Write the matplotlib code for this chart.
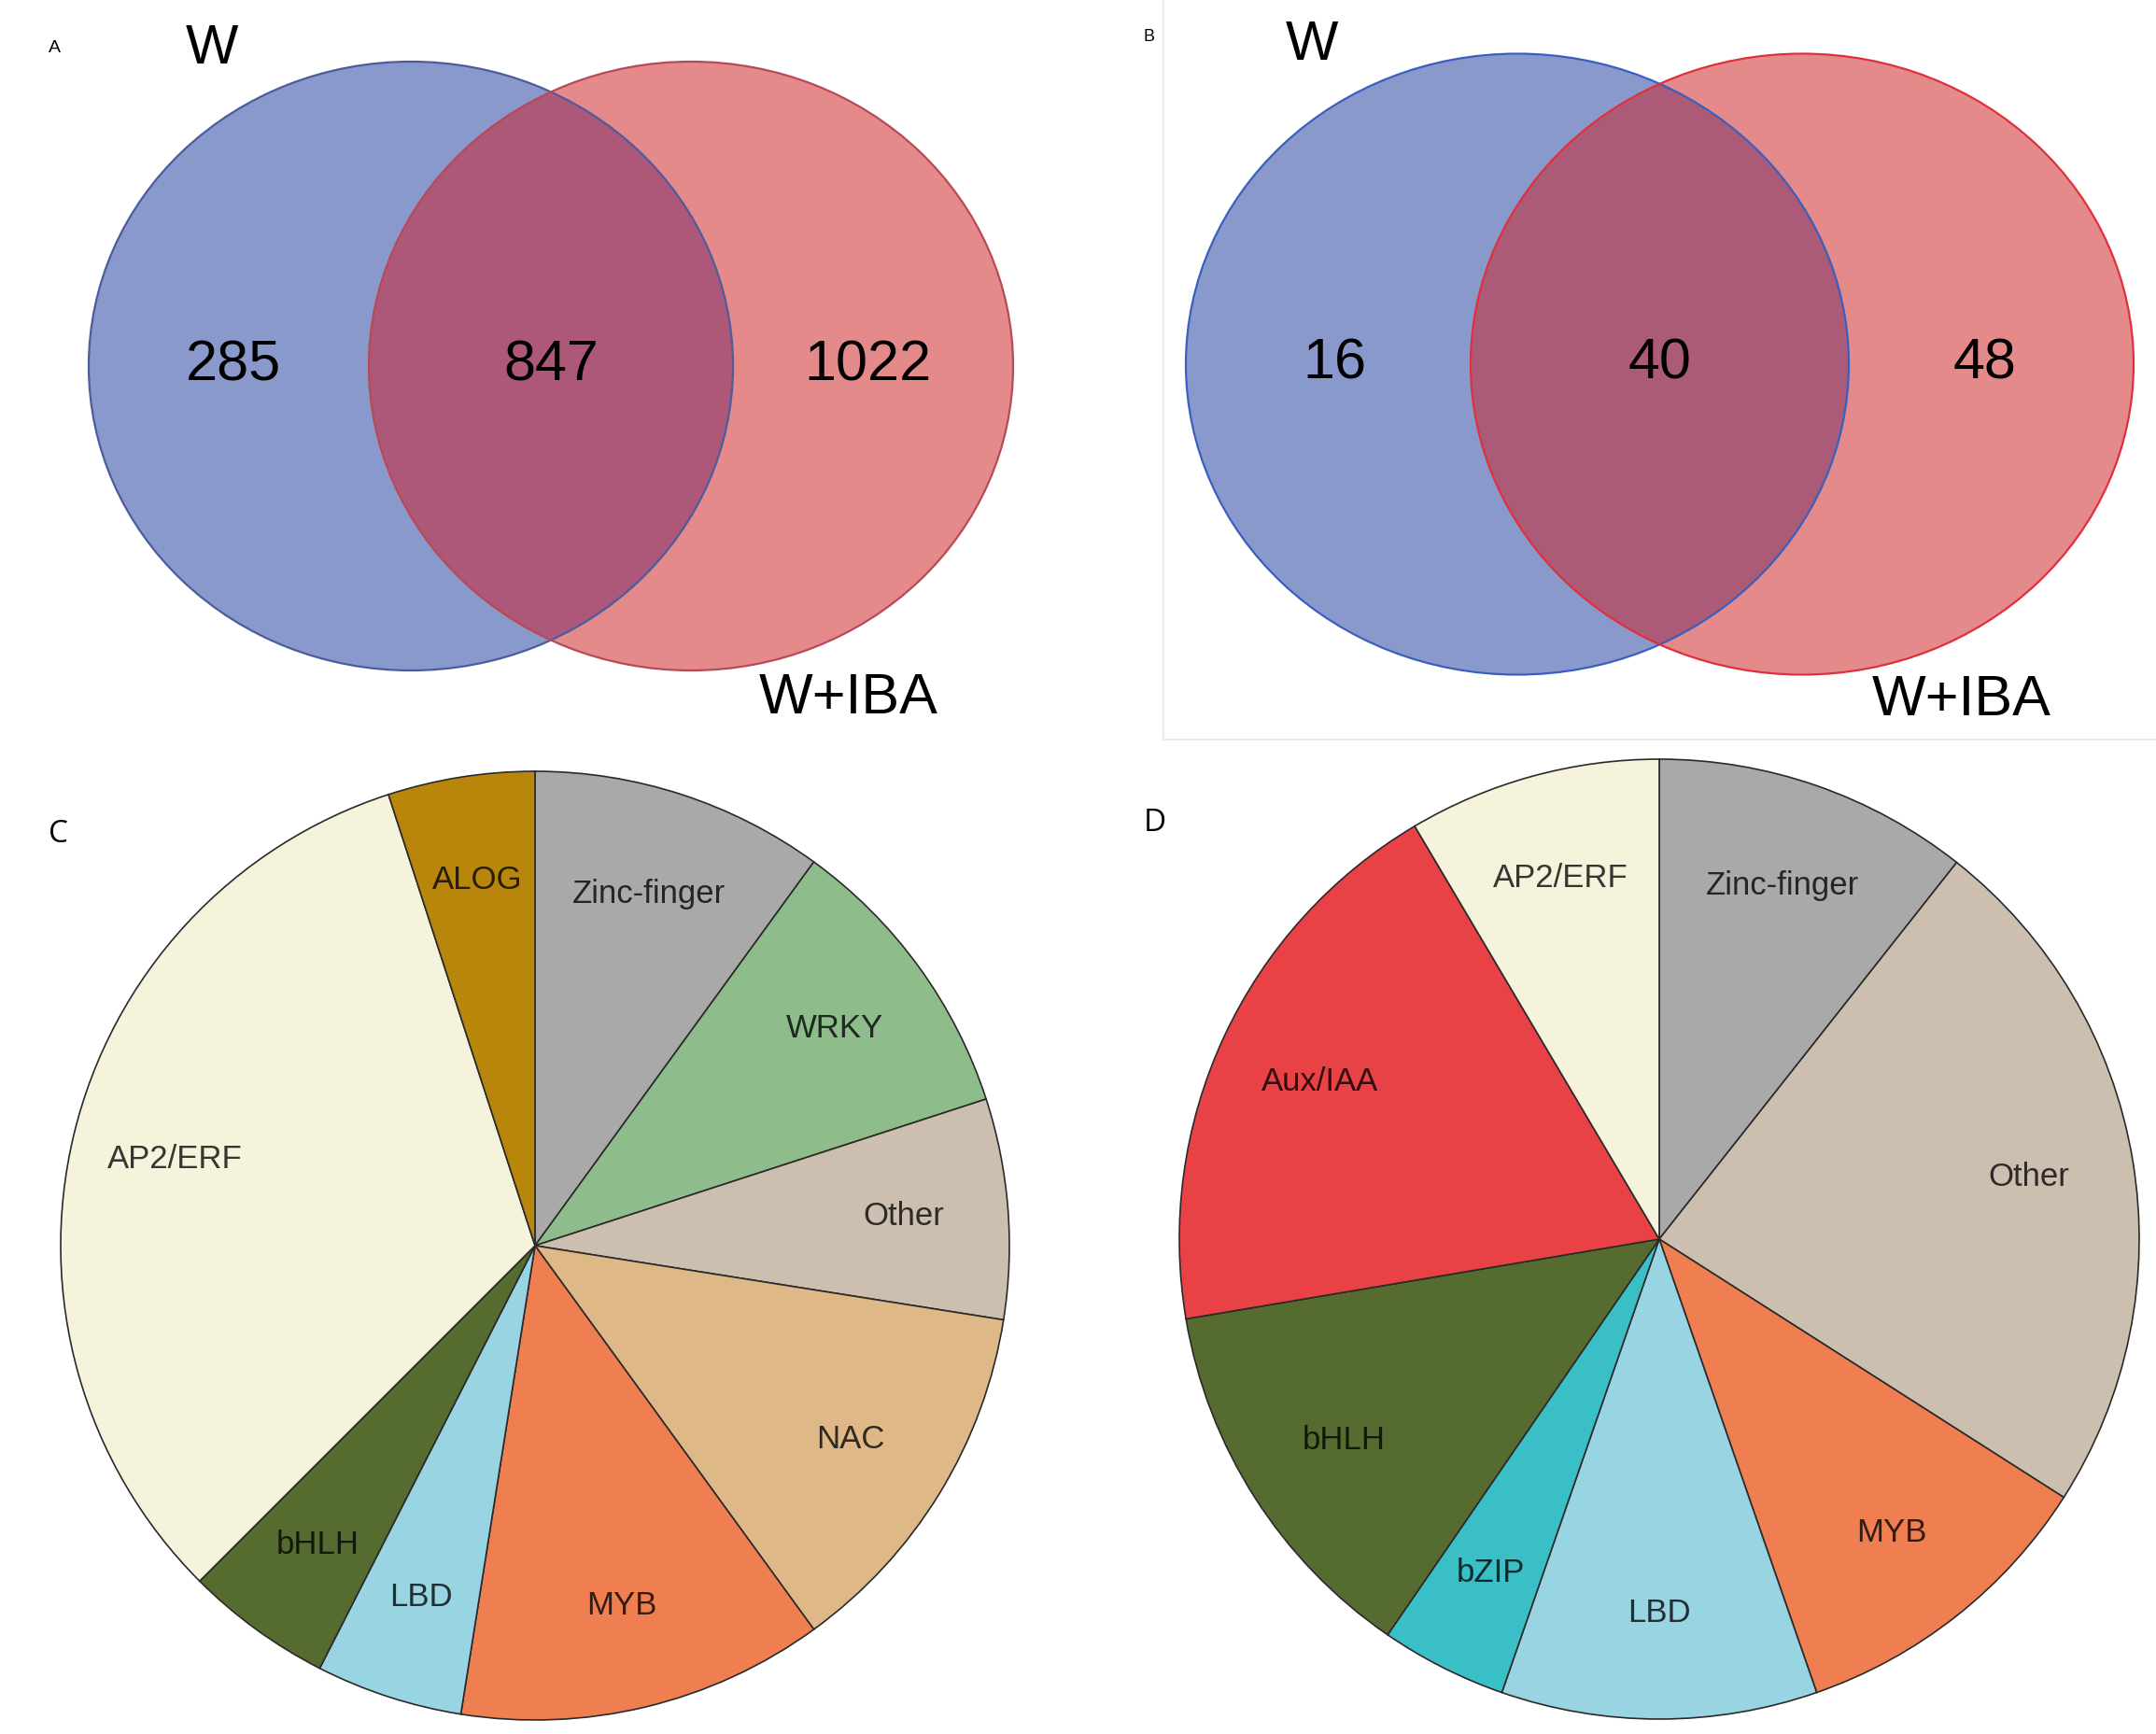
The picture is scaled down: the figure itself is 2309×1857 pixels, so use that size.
import numpy as np
import matplotlib
matplotlib.use("Agg")
import matplotlib.pyplot as plt
from matplotlib.patches import Ellipse, Rectangle
from matplotlib.colors import to_rgb

plt.rcParams['font.family'] = ['Liberation Sans', 'DejaVu Sans']

# venn counts: only W, both, only W+IBA
set_names = ['W', 'W+IBA']
venn_a = [285, 847, 1022]
venn_b = [16, 40, 48]

# transcription factor families, clockwise from 12 o'clock
fam_c = ['Zinc-finger', 'WRKY', 'Other', 'NAC', 'MYB', 'LBD', 'bHLH', 'AP2/ERF', 'ALOG']
cnt_c = [4, 4, 3, 5, 5, 2, 2, 13, 2]
col_c = ['#a9a9a9', '#8fbc8b', '#cdbfb0', '#deb887', '#ef7f51', '#98d4e2',
         '#566b30', '#f5f3dc', '#b8860b']

fam_d = ['Zinc-finger', 'Other', 'MYB', 'LBD', 'bZIP', 'bHLH', 'Aux/IAA', 'AP2/ERF']
cnt_d = [5, 11, 5, 5, 2, 6, 9, 4]
col_d = ['#a9a9a9', '#cdbfb0', '#ef7f51', '#98d4e2', '#3abfc6', '#566b30',
         '#e84146', '#f5f3dc']

W, H = 2309, 1857
fig = plt.figure(figsize=(W / 100, H / 100), dpi=100)

# background axes in pixel coords (y down) for the two venn panels
bg = fig.add_axes([0, 0, 1, 1])
bg.set_xlim(0, W)
bg.set_ylim(H, 0)
bg.axis('off')


def venn(ax, counts, cx1, cx2, cy, w, h, edge1, edge2, fill1, fill2, fill12):
    e1 = Ellipse((cx1, cy), w, h, facecolor=fill1, edgecolor='none')
    e2 = Ellipse((cx2, cy), w, h, facecolor=fill2, edgecolor='none')
    ax.add_patch(e1)
    ax.add_patch(e2)
    mid = Ellipse((cx1, cy), w, h, facecolor=fill12, edgecolor='none')
    ax.add_patch(mid)
    mid.set_clip_path(e2)
    ax.add_patch(Ellipse((cx1, cy), w, h, facecolor='none', edgecolor=edge1, lw=1.6))
    ax.add_patch(Ellipse((cx2, cy), w, h, facecolor='none', edgecolor=edge2, lw=1.6))
    # region counts
    xs = [cx1 - w * 0.275, (cx1 + cx2) / 2, cx2 + w * 0.275]
    for x, n in zip(xs, counts):
        ax.text(x, cy, str(n), fontsize=44, ha='center', va='center')


# panel A
venn(bg, venn_a, 440, 740, 392, 690, 652, '#4c5c9c', '#b84a58',
     '#8a99cb', '#e58a8b', '#ad5878')
bg.text(227, 53, set_names[0], fontsize=43, ha='center', va='center')
bg.text(909, 748, set_names[1], fontsize=44, ha='center', va='center')
bg.text(58, 51, 'A', fontsize=14, ha='center', va='center')

# panel B
bg.add_patch(Rectangle((1246, -2), 1070, 794, facecolor='none',
                       edgecolor='#e8e8e8', lw=1.2))
venn(bg, venn_b, 1625, 1930, 390, 710, 665, '#3a5fc0', '#e0303c',
     '#8a99cb', '#e58a8b', '#ab5b77')
bg.text(1405, 48, set_names[0], fontsize=43, ha='center', va='center')
bg.text(2101, 751, set_names[1], fontsize=44, ha='center', va='center')
bg.text(1230, 40, 'B', fontsize=13, ha='center', va='center')


def dark(c, k=0.22):
    r, g, b = to_rgb(c)
    return (r * k, g * k, b * k)


def pie_panel(cx, cy, r, counts, names, colors, tag, tag_xy):
    ax = fig.add_axes([(cx - r) / W, (H - cy - r) / H, 2 * r / W, 2 * r / H])
    wedges, texts = ax.pie(counts, labels=names, colors=colors, startangle=90,
                           counterclock=False, labeldistance=0.78,
                           wedgeprops=dict(edgecolor='#2a2a2a', linewidth=1.2),
                           textprops=dict(fontsize=25, ha='center', va='center'))
    for t, c in zip(texts, colors):
        t.set_color(dark(c))
    ax.set_xlim(-1, 1)
    ax.set_ylim(-1, 1)
    ax.set_aspect('equal')
    ax.axis('off')
    bg.text(tag_xy[0], tag_xy[1], tag, fontsize=24, ha='center', va='center',
            family=['Open Sans', 'DejaVu Sans'])


pie_panel(573, 1334, 508, cnt_c, fam_c, col_c, 'C', (62, 893))
pie_panel(1777, 1327, 514, cnt_d, fam_d, col_d, 'D', (1237, 882))

fig.savefig('out.png', dpi=100, facecolor='white')
